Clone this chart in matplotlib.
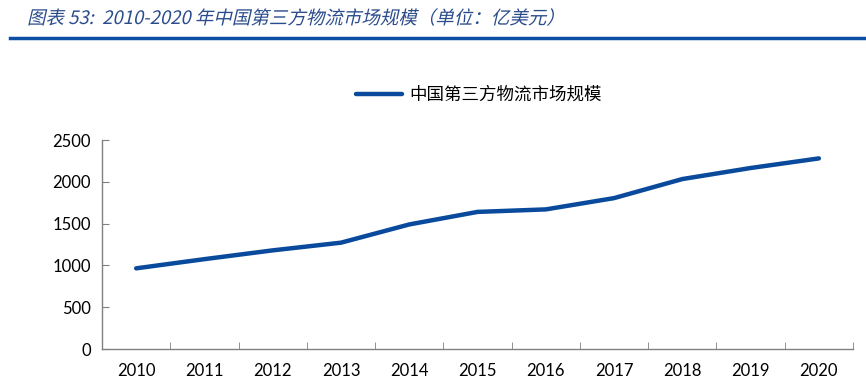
import matplotlib.pyplot as plt
import numpy as np
from matplotlib.textpath import TextPath
from matplotlib.patches import PathPatch
from matplotlib.font_manager import FontProperties
from matplotlib.transforms import Affine2D, IdentityTransform

plt.rcParams['font.family'] = ['Lato', 'Noto Sans CJK SC', 'DejaVu Sans']

years = ['2010', '2011', '2012', '2013', '2014', '2015', '2016', '2017', '2018', '2019', '2020']
market_size = [965, 1075, 1180, 1272, 1490, 1640, 1670, 1805, 2033, 2165, 2280]
series_name = '中国第三方物流市场规模'
title = '图表 53:  2010-2020 年中国第三方物流市场规模（单位：亿美元）'

line_color = '#0A4A9C'
spine_color = '#808080'

fig = plt.figure(figsize=(8.66, 3.84), dpi=100)

# italic-looking title: CJK font has no italic, so skew the glyph outlines
tp = TextPath((0, 0), title, size=18.5, prop=FontProperties(family='Noto Sans CJK SC'))
skew = Affine2D().skew_deg(13, 0).translate(27, 384 - 24) + IdentityTransform()
fig.add_artist(PathPatch(tp, transform=skew, facecolor='#2B4C8C', edgecolor='none'))
fig.add_artist(plt.Line2D([0.012, 1.0], [0.9, 0.9], color='#0E4DA4', lw=2.5))

ax = fig.add_axes([0.1178, 0.0911, 0.8672, 0.5443])
x = np.arange(len(years))
ax.plot(x, market_size, color=line_color, lw=3.2, solid_capstyle='round', label=series_name)

ax.set_xlim(-0.5, len(years) - 0.5)
ax.set_ylim(0, 2500)
ax.set_yticks(np.arange(0, 2501, 500))
ax.set_xticks(x)
ax.set_xticklabels(years)
ax.set_xticks(np.arange(-0.5, len(years), 1), minor=True)
ax.tick_params(axis='x', which='major', length=0, labelsize=12, pad=10)
ax.tick_params(axis='x', which='minor', direction='in', length=5, color=spine_color)
ax.tick_params(axis='y', direction='in', length=5, color=spine_color, labelsize=12, pad=8)

for s in ['top', 'right']:
    ax.spines[s].set_visible(False)
for s in ['left', 'bottom']:
    ax.spines[s].set_color(spine_color)
    ax.spines[s].set_linewidth(1)

leg = fig.legend(loc='center', bbox_to_anchor=(0.553, 0.753), frameon=False,
                 prop={'family': ['Noto Sans CJK SC'], 'size': 12.6},
                 handlelength=2.6, handletextpad=0.4)

fig.savefig('out.png', dpi=100)
